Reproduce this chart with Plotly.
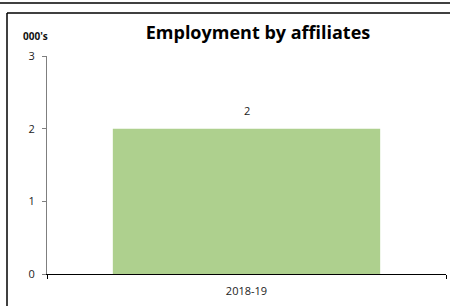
import plotly.graph_objects as go

categories = ["2018-19"]
values = [2]
y_ticks = [0, 1, 2, 3]

W, H = 450, 306
ML, MR, MT, MB = 47, 4, 56, 32
pw, ph = W - ML - MR, H - MT - MB

def px_x(x):
    return (x - ML) / pw

def px_y(y):
    return (H - MB - y) / ph

fig = go.Figure()
fig.add_trace(go.Bar(
    x=categories, y=values, marker_color="#AED08E", width=0.67,
    marker_line_width=0, hoverinfo="skip"
))

for c, v in zip(categories, values):
    fig.add_annotation(x=c, y=v, text=str(v), showarrow=False, yshift=18,
                       font=dict(family="Open Sans", size=11, color="#222"))

fig.add_annotation(xref="paper", yref="paper", x=px_x(21), y=px_y(36), xanchor="left", yanchor="middle",
                   text="<b>000's</b>", showarrow=False, font=dict(family="Open Sans", size=10, color="#111"))

line = dict(color="black", width=1.5)
fig.add_shape(type="line", xref="paper", yref="paper", x0=px_x(0), x1=px_x(450), y0=px_y(3), y1=px_y(3), line=line)
fig.add_shape(type="line", xref="paper", yref="paper", x0=px_x(7), x1=px_x(450), y0=px_y(13), y1=px_y(13), line=line)
fig.add_shape(type="line", xref="paper", yref="paper", x0=px_x(7), x1=px_x(7), y0=px_y(13), y1=px_y(306), line=line)

fig.update_layout(
    width=W, height=H,
    margin=dict(l=ML, r=MR, t=MT, b=MB),
    paper_bgcolor="white", plot_bgcolor="white",
    showlegend=False,
    title=dict(text="<b>Employment by affiliates</b>", x=258 / W, xanchor="center",
               y=1 - 33 / H, yanchor="middle", font=dict(family="Open Sans", size=18, color="black")),
    xaxis=dict(showline=True, linecolor="black", linewidth=1.2, ticks="outside", tickson="boundaries",
               ticklen=4, tickcolor="black", showgrid=False, ticklabelstandoff=7,
               tickfont=dict(family="Open Sans", size=11, color="#222")),
    yaxis=dict(range=[0, 3], tickvals=y_ticks, showline=True, linecolor="#7f7f7f", linewidth=1.2,
               ticks="outside", ticklen=4, tickcolor="#7f7f7f", showgrid=False, zeroline=False,
               ticklabelstandoff=5, tickfont=dict(family="Open Sans", size=11, color="#222")),
)

fig.write_html("out.html", config={"displayModeBar": False},
               post_script="document.body.style.margin='0';document.body.style.padding='0';")
